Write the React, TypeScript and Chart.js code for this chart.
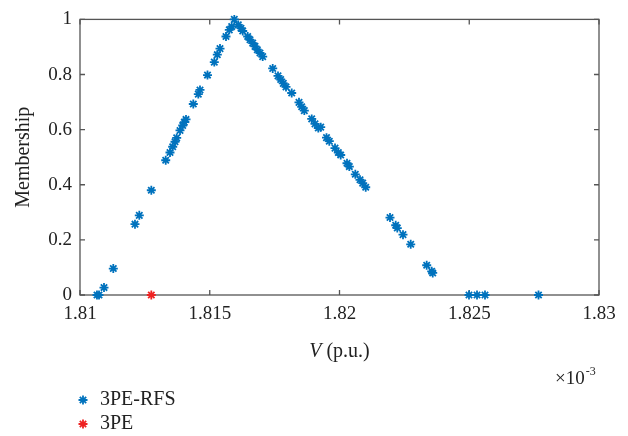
import React, { useEffect, useRef } from "react";
import { Chart, registerables } from "chart.js";

Chart.register(...registerables);

// ---- data (V in units of 1e-3 p.u., membership 0..1) ----
const vRfs: number[] = [
  1.810655, 1.810732, 1.810925, 1.811283, 1.812119, 1.812285, 1.812748,
  1.813303, 1.813468, 1.813572, 1.813661, 1.813726, 1.813854, 1.813958,
  1.814019, 1.814085, 1.814366, 1.814559, 1.814624, 1.814913, 1.815175,
  1.815291, 1.815395, 1.815626, 1.815753, 1.815846, 1.815946, 1.8161,
  1.816204, 1.81627, 1.816462, 1.816551, 1.816655, 1.816744, 1.816833,
  1.816936, 1.81704, 1.817426, 1.81763, 1.817734, 1.817834, 1.817938,
  1.818158, 1.818439, 1.818543, 1.818644, 1.818929, 1.819056, 1.819183,
  1.819276, 1.819499, 1.819607, 1.819827, 1.819954, 1.820046, 1.820289,
  1.820378, 1.820609, 1.82079, 1.820894, 1.82101, 1.821946, 1.822166,
  1.822227, 1.822447, 1.822744, 1.82336, 1.823553, 1.823592, 1.82499,
  1.825299, 1.825607, 1.827669,
];
const muRfs: number[] = [
  0.0, 0.0, 0.027, 0.096, 0.257, 0.289, 0.38,
  0.489, 0.517, 0.538, 0.556, 0.57, 0.597, 0.615,
  0.627, 0.637, 0.693, 0.729, 0.744, 0.798, 0.845,
  0.872, 0.894, 0.938, 0.962, 0.974, 1.0, 0.98,
  0.968, 0.958, 0.938, 0.926, 0.914, 0.902, 0.89,
  0.878, 0.865, 0.822, 0.795, 0.782, 0.768, 0.755,
  0.733, 0.699, 0.683, 0.669, 0.639, 0.621, 0.606,
  0.609, 0.571, 0.558, 0.533, 0.517, 0.508, 0.478,
  0.466, 0.438, 0.418, 0.406, 0.391, 0.281, 0.253,
  0.243, 0.219, 0.184, 0.108, 0.086, 0.08, 0.0,
  0.0, 0.0, 0.0,
];
const vPe: number[] = [1.812748];
const muPe: number[] = [0.0];

const xTicks: number[] = [1.81, 1.815, 1.82, 1.825, 1.83];
const yTicks: number[] = [0, 0.2, 0.4, 0.6, 0.8, 1];
const seriesNames: string[] = ["3PE-RFS", "3PE"];
const seriesColors: string[] = ["#0072BD", "#EE2222"];

const SERIF = "'Liberation Serif', 'Times New Roman', serif";

function drawStar(ctx: CanvasRenderingContext2D, x: number, y: number, r: number, color: string) {
  ctx.save();
  ctx.strokeStyle = color;
  ctx.lineWidth = 1.8;
  ctx.beginPath();
  for (let k = 0; k < 4; k++) {
    const a = (k * Math.PI) / 4;
    ctx.moveTo(x - r * Math.cos(a), y - r * Math.sin(a));
    ctx.lineTo(x + r * Math.cos(a), y + r * Math.sin(a));
  }
  ctx.stroke();
  ctx.restore();
}

const framePlugin = {
  id: "framePlugin",
  beforeDatasetsDraw(chart: any) {
    const ctx: CanvasRenderingContext2D = chart.ctx;
    const { left, right, top, bottom } = chart.chartArea;
    const xs = chart.scales.x;
    const ys = chart.scales.y;
    ctx.save();
    ctx.strokeStyle = "#555555";
    ctx.lineWidth = 1.3;
    ctx.strokeRect(left, top, right - left, bottom - top);
    const tl = 5;
    ctx.beginPath();
    xTicks.forEach((t) => {
      const px = xs.getPixelForValue(t);
      ctx.moveTo(px, bottom);
      ctx.lineTo(px, bottom - tl);
      ctx.moveTo(px, top);
      ctx.lineTo(px, top + tl);
    });
    yTicks.forEach((t) => {
      const py = ys.getPixelForValue(t);
      ctx.moveTo(left, py);
      ctx.lineTo(left + tl, py);
      ctx.moveTo(right, py);
      ctx.lineTo(right - tl, py);
    });
    ctx.stroke();
    ctx.restore();
  },
  afterDraw(chart: any) {
    const ctx: CanvasRenderingContext2D = chart.ctx;
    const { left, right, top, bottom } = chart.chartArea;
    ctx.save();
    ctx.fillStyle = "#222222";
    ctx.textBaseline = "middle";
    // x label: italic V + (p.u.)
    const cx = (left + right) / 2;
    const ly = 352;
    ctx.font = `italic 20px ${SERIF}`;
    const wV = ctx.measureText("V").width;
    ctx.font = `20px ${SERIF}`;
    const rest = " (p.u.)";
    const wR = ctx.measureText(rest).width;
    const startX = cx - (wV + wR) / 2;
    ctx.textAlign = "left";
    ctx.font = `italic 20px ${SERIF}`;
    ctx.fillText("V", startX, ly);
    ctx.font = `20px ${SERIF}`;
    ctx.fillText(rest, startX + wV, ly);

    // y label
    ctx.save();
    ctx.translate(24, (top + bottom) / 2);
    ctx.rotate(-Math.PI / 2);
    ctx.textAlign = "center";
    ctx.font = `20px ${SERIF}`;
    ctx.fillText("Membership", 0, 0);
    ctx.restore();

    // exponent
    ctx.textAlign = "left";
    ctx.font = `19px ${SERIF}`;
    const ex = 555;
    ctx.fillText("\u00d710", ex, 379);
    const w10 = ctx.measureText("\u00d710").width;
    ctx.font = `12px ${SERIF}`;
    ctx.fillText("-3", ex + w10 + 1, 372);

    // legend
    seriesNames.forEach((name, i) => {
      const yy = 400 + i * 24;
      drawStar(ctx, 83, yy, 4.5, seriesColors[i]);
      ctx.fillStyle = "#222222";
      ctx.font = `20px ${SERIF}`;
      ctx.textAlign = "left";
      ctx.fillText(name, 100, yy);
    });
    ctx.restore();
  },
};

export default function App() {
  const ref = useRef<HTMLCanvasElement | null>(null);
  useEffect(() => {
    document.body.style.margin = "0";
    const canvas = ref.current;
    if (!canvas) return;
    const chart = new Chart(canvas, {
      type: "scatter",
      data: {
        datasets: [
          {
            label: seriesNames[0],
            data: vRfs.map((v, i) => ({ x: v, y: muRfs[i] })),
            pointStyle: "star",
            pointRadius: 4.5,
            pointBorderWidth: 1.8,
            borderColor: seriesColors[0],
            backgroundColor: seriesColors[0],
            showLine: false,
            clip: false,
          },
          {
            label: seriesNames[1],
            data: vPe.map((v, i) => ({ x: v, y: muPe[i] })),
            pointStyle: "star",
            pointRadius: 4.5,
            pointBorderWidth: 1.8,
            borderColor: seriesColors[1],
            backgroundColor: seriesColors[1],
            showLine: false,
            clip: false,
          },
        ],
      },
      options: {
        responsive: false,
        animation: false,
        layout: { padding: { left: 0, top: 16, right: 29, bottom: 0 } },
        plugins: { legend: { display: false }, tooltip: { enabled: false } },
        scales: {
          x: {
            type: "linear",
            min: 1.81,
            max: 1.83,
            afterBuildTicks: (s: any) => {
              s.ticks = xTicks.map((v) => ({ value: v }));
            },
            afterFit: (s: any) => {
              s.height = 141;
            },
            grid: { display: false, drawTicks: false },
            border: { display: false },
            ticks: {
              padding: 8,
              color: "#222222",
              font: { family: SERIF, size: 19 },
              maxRotation: 0,
              callback: (v: any) => String(Number(Number(v).toFixed(4))),
            },
          },
          y: {
            type: "linear",
            min: 0,
            max: 1,
            afterBuildTicks: (s: any) => {
              s.ticks = yTicks.map((v) => ({ value: v }));
            },
            afterFit: (s: any) => {
              s.width = 80;
            },
            grid: { display: false, drawTicks: false },
            border: { display: false },
            ticks: {
              padding: 8,
              color: "#222222",
              font: { family: SERIF, size: 19 },
              callback: (v: any) => String(Number(Number(v).toFixed(2))),
            },
          },
        },
      },
      plugins: [framePlugin],
    });
    return () => chart.destroy();
  }, []);
  return (
    <canvas
      ref={ref}
      width={628}
      height={436}
      style={{ display: "block", width: 628, height: 436 }}
    />
  );
}
